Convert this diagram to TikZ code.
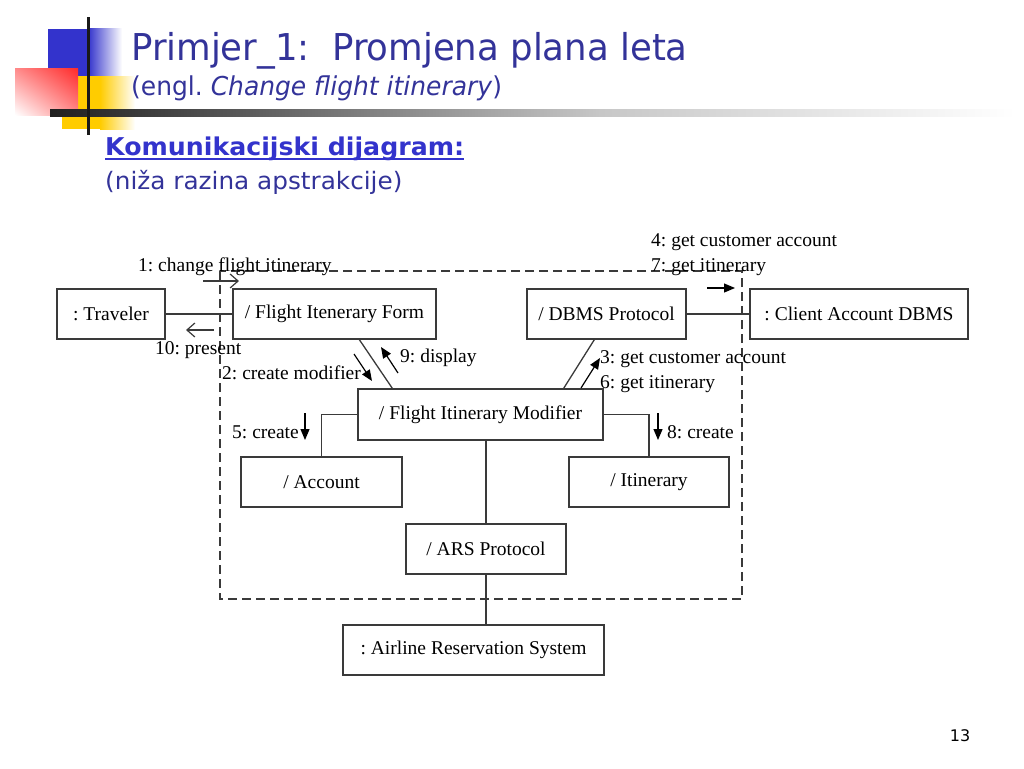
\documentclass[tikz,border=0pt]{standalone}
\usepackage{fontspec}
\setmainfont{Liberation Serif}
\newfontfamily\titlefont[FakeStretch=0.96]{DejaVu Sans}
\newfontfamily\bodyfont[FakeStretch=1.03]{DejaVu Sans}
\newfontfamily\numfont{DejaVu Sans}
\usetikzlibrary{arrows.meta,calc,shadings}
\definecolor{titleblue}{HTML}{333399}
\definecolor{headblue}{HTML}{3333CC}
\definecolor{sqblue}{HTML}{3333CC}
\definecolor{sqyellow}{HTML}{FFCC00}
\definecolor{sqred}{HTML}{FF2A2A}
\definecolor{boxline}{HTML}{3A3A3A}
\frenchspacing
\tikzset{
  obj/.style={draw=boxline, line width=1.3pt, minimum height=50pt, inner sep=0pt, font=\fontsize{19.5}{22}\selectfont},
  link/.style={draw=boxline, line width=1.3pt},
  lbl/.style={inner sep=0pt, font=\fontsize{19.5}{22}\selectfont},
  openmsg/.style={draw=boxline, line width=1.2pt, -{Straight Barb[length=8pt,width=14pt]}},
  fillmsg/.style={draw=black, line width=1.2pt, -{Triangle[length=11pt,width=9pt]}},
  bound/.style={draw=boxline, line width=1.3pt, dash pattern=on 9pt off 5pt},
}
\begin{document}
\begin{tikzpicture}[x=1pt,y=-1pt]
\useasboundingbox (0,0) rectangle (1024,768);
% decoration
\fill[sqblue] (48,29) rectangle (88,76);
\shade[left color=sqblue, right color=white] (88,29) rectangle (122,76);
\fill[sqyellow] (62,76) rectangle (100,129);
\shade[left color=sqyellow, right color=white] (100,76) rectangle (135,129);
\shade[upper right=sqred, upper left=sqred!55, lower right=sqred!55, lower left=white] (15,68) rectangle (78,115);
\shade[left color=black!88, right color=black!22] (50,109) rectangle (600,116);
\shade[left color=black!22, right color=white] (600,109) rectangle (1015,116);
\fill[black!90] (86.5,17) rectangle (89.5,135);
% headings
\node[anchor=base west, inner sep=0pt, text=titleblue, font=\titlefont\fontsize{37}{40}\selectfont] (title) at (131,60) {Primjer\_1:\ \ Promjena plana leta};
\node[anchor=base west, inner sep=0pt, text=titleblue, font=\titlefont\fontsize{26}{30}\selectfont] (subtitle) at (131,95) {(engl. \textit{Change flight itinerary})};
\node[anchor=base west, inner sep=0pt, text=headblue, font=\bodyfont\fontsize{24.5}{28}\selectfont\bfseries] (head) at (105,155) {Komunikacijski dijagram:};
\draw[headblue, line width=2pt] ([yshift=-4pt]head.base west) -- ([yshift=-4pt]head.base east);
\node[anchor=base west, inner sep=0pt, text=titleblue, font=\bodyfont\fontsize{24}{28}\selectfont] (sub2) at (105,189) {(niža razina apstrakcije)};
\node[anchor=center, inner sep=0pt, font=\numfont\fontsize{16}{18}\selectfont] (pg) at (960,736) {13};
% boundary
\draw[bound] (220,271) rectangle (742,599);
% objects
\node[obj, minimum width=108pt] (trav) at (111,314) {: Traveler};
\node[obj, minimum width=203pt] (form) at (334.5,314) {/ Flight Itenerary Form};
\node[obj, minimum width=159pt] (dbms) at (606.5,314) {/ DBMS Protocol};
\node[obj, minimum width=218pt] (client) at (859,314) {: Client Account DBMS};
\node[obj, minimum width=245pt, minimum height=51pt] (mod) at (480.5,414.5) {/ Flight Itinerary Modifier};
\node[obj, minimum width=161pt] (acc) at (321.5,482) {/ Account};
\node[obj, minimum width=160pt] (itin) at (649,482) {/ Itinerary};
\node[obj, minimum width=160pt] (ars) at (486,549) {/ ARS Protocol};
\node[obj, minimum width=261pt] (air) at (473.5,650) {: Airline Reservation System};
% links
\draw[link] (trav.east) -- (form.west);
\draw[link] (dbms.east) -- (client.west);
\draw[link] ([xshift=127pt]form.south west) -- ([xshift=35pt]mod.north west);
\draw[link] ([xshift=68pt]dbms.south west) -- ([xshift=-40pt]mod.north east);
\draw[link] (mod.west) -| (acc.north);
\draw[link] (mod.east) -| (itin.north);
\draw[link] (mod.south -| ars.north) -- (ars.north);
\draw[link] (ars.south) -- (ars.south |- air.north);
% messages
\coordinate (m1a) at (203,281); \coordinate (m1b) at (239,281);
\draw[openmsg] (m1a) -- (m1b);
\node[lbl, anchor=base west] (l1) at (138,271) {1: change flight itinerary};
\coordinate (m10a) at (214,330); \coordinate (m10b) at (186,330);
\draw[openmsg] (m10a) -- (m10b);
\node[lbl, anchor=base west] (l10) at (155,354) {10: present};
\coordinate (m2a) at (354,354); \coordinate (m2b) at (372,381);
\draw[fillmsg] (m2a) -- (m2b);
\node[lbl, anchor=base west] (l2) at (222,379) {2: create modifier};
\coordinate (m9a) at (398,373); \coordinate (m9b) at (381,347);
\draw[fillmsg] (m9a) -- (m9b);
\node[lbl, anchor=base west] (l9) at (400,362) {9: display};
\coordinate (m3a) at (581,388); \coordinate (m3b) at (600,358);
\draw[fillmsg] (m3a) -- (m3b);
\node[lbl, anchor=base west] (l3) at (600,363) {3: get customer account};
\node[lbl, anchor=base west] (l6) at (600,388) {6: get itinerary};
\node[lbl, anchor=base west] (l4) at (651,246) {4: get customer account};
\node[lbl, anchor=base west] (l7) at (651,271) {7: get itinerary};
\coordinate (m4a) at (707,288); \coordinate (m4b) at (735,288);
\draw[fillmsg] (m4a) -- (m4b);
\coordinate (m5a) at (305,413); \coordinate (m5b) at (305,440);
\draw[fillmsg] (m5a) -- (m5b);
\node[lbl, anchor=base east] (l5) at (299,438) {5: create};
\coordinate (m8a) at (658,413); \coordinate (m8b) at (658,440);
\draw[fillmsg] (m8a) -- (m8b);
\node[lbl, anchor=base west] (l8) at (667,438) {8: create};
\end{tikzpicture}
\end{document}
